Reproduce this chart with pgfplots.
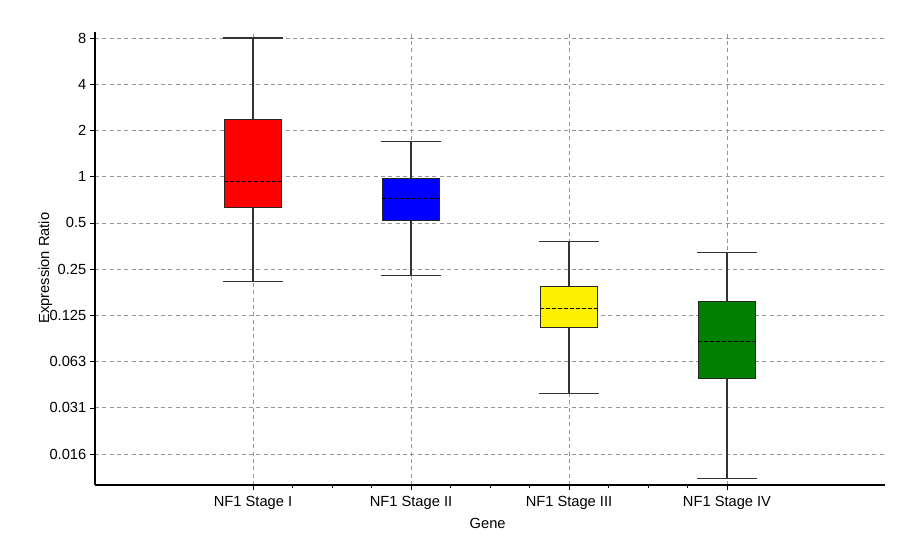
\documentclass[border=0pt]{standalone}
\usepackage{pgfplots}
\pgfplotsset{compat=1.18}
\usepgfplotslibrary{statistics}
\usepackage{fontspec}
\setmainfont{Liberation Sans}
\definecolor{gridgray}{RGB}{150,150,150}
\definecolor{dgreen}{RGB}{0,128,0}
\begin{document}
\begin{tikzpicture}
\useasboundingbox (0pt,0pt) rectangle (676.5pt,412.5pt);
\begin{axis}[
  at={(71.25pt,48.75pt)}, anchor=south west,
  scale only axis,
  width=592.5pt, height=339.75pt,
  font=\fontsize{11}{13}\selectfont,
  /pgf/number format/assume math mode=true,
  ymode=log, log basis y=2,
  xmin=0, xmax=5,
  ymin=0.00983, ymax=8.75,
  xtick={1,2,3,4},
  xticklabels={NF1 Stage I, NF1 Stage II, NF1 Stage III, NF1 Stage IV},
  minor x tick num=3,
  ytick={0.015625,0.03125,0.0625,0.125,0.25,0.5,1,2,4,8},
  yticklabels={0.016,0.031,0.063,0.125,0.25,0.5,1,2,4,8},
  minor y tick num=4,
  axis lines*=left,
  axis line style={line width=1.5pt, black},
  tick align=outside,
  major tick length=4pt,
  minor tick length=2pt,
  tick style={black, line width=0.4pt},
  grid=major,
  major grid style={gridgray, dashed, dash pattern=on 3pt off 2.5pt, line width=0.6pt},
  minor grid style={draw=none},
  xlabel={Gene},
  ylabel={Expression Ratio},
  xlabel style={at={(axis description cs:0.497,-0.062)}, anchor=north},
  ylabel style={at={(axis description cs:-0.063,0.479)}, anchor=center},
  yticklabel style={xshift=1pt},
  xticklabel style={yshift=-1pt},
  boxplot/draw direction=y,
  boxplot/box extend=0.365,
  boxplot/whisker extend=0.38,
  boxplot/every median/.style={black, dashed, dash pattern=on 2.5pt off 2pt, line width=0.6pt},
  boxplot/every box/.style={draw=black!85, line width=0.8pt},
  boxplot/every whisker/.style={draw=black!80, line width=0.8pt},
]
\addplot+[mark=none, fill=red, draw=black!85, boxplot prepared={draw position=1,
  lower whisker=0.209, lower quartile=0.63, median=0.936, upper quartile=2.36, upper whisker=8.0}]
  coordinates {};
\addplot+[mark=none, fill=blue, draw=black!85, boxplot prepared={draw position=2,
  lower whisker=0.226, lower quartile=0.52, median=0.718, upper quartile=0.975, upper whisker=1.70}]
  coordinates {};
\addplot+[mark=none, fill=yellow, draw=black!85, boxplot prepared={draw position=3,
  lower whisker=0.0386, lower quartile=0.104, median=0.139, upper quartile=0.192, upper whisker=0.379}]
  coordinates {};
\addplot+[mark=none, fill=dgreen, draw=black!85, boxplot prepared={draw position=4,
  lower whisker=0.0108, lower quartile=0.0485, median=0.0845, upper quartile=0.153, upper whisker=0.321}]
  coordinates {};
\end{axis}
\end{tikzpicture}
\end{document}
